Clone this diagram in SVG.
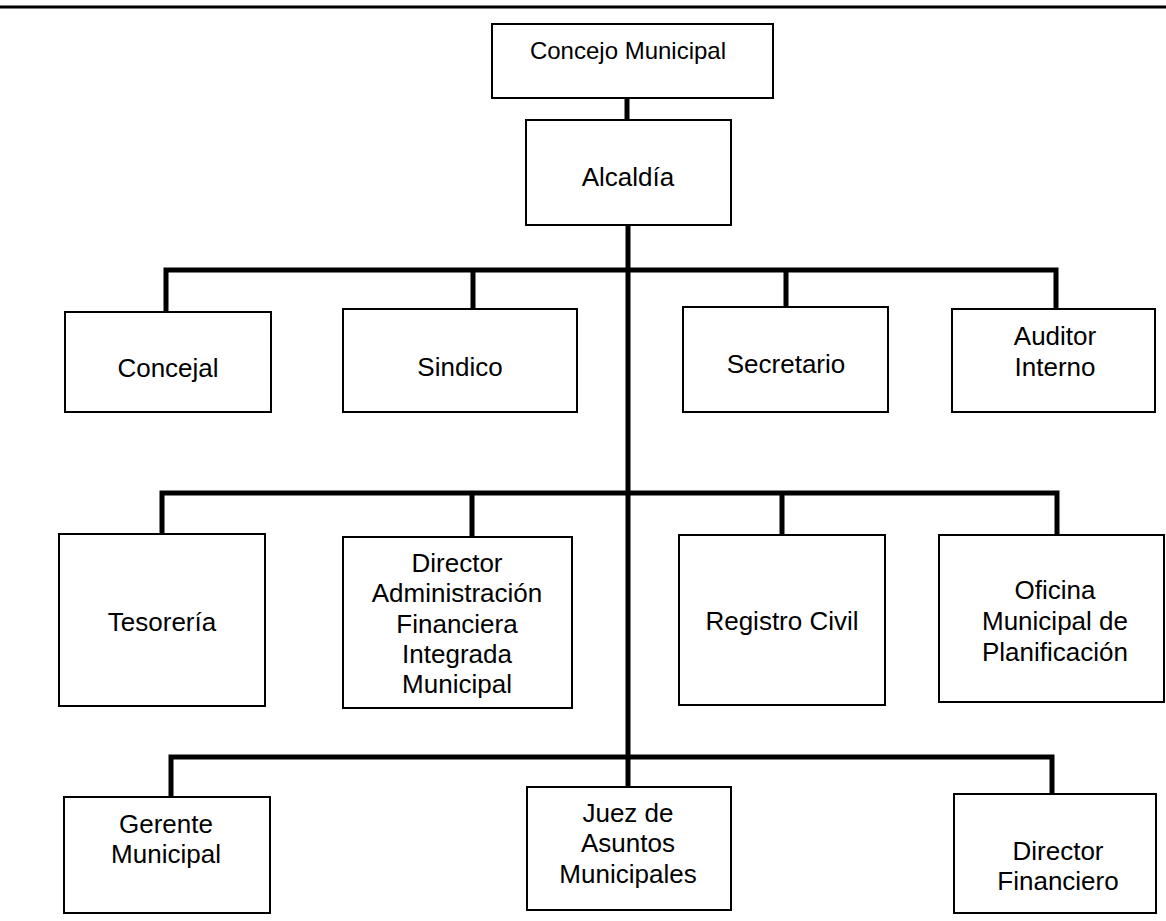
<svg xmlns="http://www.w3.org/2000/svg" width="1166" height="921" viewBox="0 0 1166 921">
<style>
.box{fill:#fff;stroke:#000;stroke-width:2}
.t{font-family:"Liberation Sans",Arial,sans-serif;font-size:26px;fill:#000;text-anchor:middle}
.t2{font-family:"Liberation Sans",Arial,sans-serif;font-size:24px;fill:#000;text-anchor:middle}
.c{fill:none;stroke:#000;stroke-width:5;stroke-linejoin:miter;stroke-linecap:butt}
</style>
<rect width="1166" height="921" fill="#fff"/>
<line x1="0" y1="7" x2="1166" y2="7" stroke="#000" stroke-width="3"/>
<g id="connectors">
<line class="c" x1="627" y1="98" x2="627" y2="120"/>
<line class="c" x1="628" y1="225" x2="628" y2="787"/>
<path class="c" d="M166,312 V270 H1056 V309"/>
<line class="c" x1="473" y1="270" x2="473" y2="309"/>
<line class="c" x1="786" y1="270" x2="786" y2="307"/>
<path class="c" d="M162,534 V493 H1057 V535"/>
<line class="c" x1="472" y1="493" x2="472" y2="537"/>
<line class="c" x1="782" y1="493" x2="782" y2="535"/>
<path class="c" d="M171,797 V757 H1052 V794"/>
</g>
<g id="concejo-municipal">
<rect class="box" x="492" y="24" width="281" height="74"/>
<text class="t2" x="628" y="59">Concejo Municipal</text>
</g>
<g id="alcaldia">
<rect class="box" x="526" y="120" width="205" height="105"/>
<text class="t" x="628" y="186">Alcaldía</text>
</g>
<g id="concejal">
<rect class="box" x="65" y="312" width="206" height="100"/>
<text class="t" x="168" y="377">Concejal</text>
</g>
<g id="sindico">
<rect class="box" x="343" y="309" width="234" height="103"/>
<text class="t" x="460" y="376">Sindico</text>
</g>
<g id="secretario">
<rect class="box" x="683" y="307" width="205" height="105"/>
<text class="t" x="786" y="373">Secretario</text>
</g>
<g id="auditor-interno">
<rect class="box" x="952" y="309" width="203" height="103"/>
<text class="t" x="1055" y="345">Auditor</text>
<text class="t" x="1055" y="376">Interno</text>
</g>
<g id="tesoreria">
<rect class="box" x="59" y="534" width="206" height="172"/>
<text class="t" x="162" y="631">Tesorería</text>
</g>
<g id="director-afim">
<rect class="box" x="343" y="537" width="229" height="171"/>
<text class="t" x="457" y="572">Director</text>
<text class="t" x="457" y="602">Administración</text>
<text class="t" x="457" y="633">Financiera</text>
<text class="t" x="457" y="663">Integrada</text>
<text class="t" x="457" y="693">Municipal</text>
</g>
<g id="registro-civil">
<rect class="box" x="679" y="535" width="206" height="170"/>
<text class="t" x="782" y="630">Registro Civil</text>
</g>
<g id="oficina-planificacion">
<rect class="box" x="939" y="535" width="225" height="167"/>
<text class="t" x="1055" y="599">Oficina</text>
<text class="t" x="1055" y="630">Municipal de</text>
<text class="t" x="1055" y="661">Planificación</text>
</g>
<g id="gerente-municipal">
<rect class="box" x="64" y="797" width="206" height="116"/>
<text class="t" x="166" y="833">Gerente</text>
<text class="t" x="166" y="863">Municipal</text>
</g>
<g id="juez">
<rect class="box" x="527" y="787" width="204" height="123"/>
<text class="t" x="628" y="822">Juez de</text>
<text class="t" x="628" y="852">Asuntos</text>
<text class="t" x="628" y="883">Municipales</text>
</g>
<g id="director-financiero">
<rect class="box" x="954" y="794" width="202" height="119"/>
<text class="t" x="1058" y="860">Director</text>
<text class="t" x="1058" y="890">Financiero</text>
</g>
</svg>
